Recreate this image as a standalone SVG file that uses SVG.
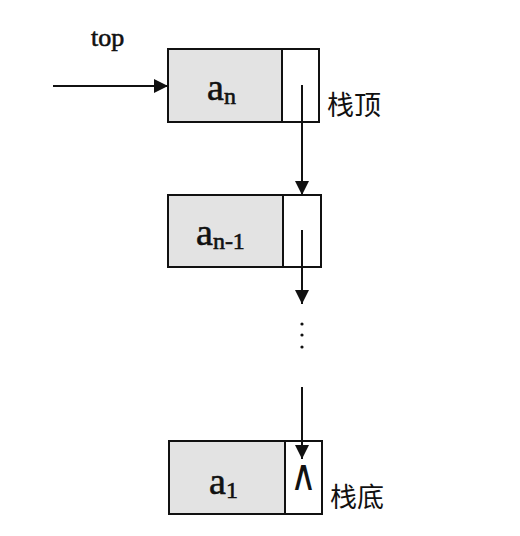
<svg xmlns="http://www.w3.org/2000/svg" width="520" height="536" viewBox="0 0 520 536">
<style>
.cell{fill:#e3e3e3;stroke:#111;stroke-width:2}
.ptr{fill:#fff;stroke:#111;stroke-width:2}
.lbl{font-family:"Liberation Serif",serif;fill:#111;stroke:#111;stroke-width:0.6}
.cn{font-family:"Noto Sans CJK SC",sans-serif;font-size:27px;fill:#111}
.ln{stroke:#111;stroke-width:2;fill:none}
</style>
<defs>
<marker id="ah" viewBox="0 0 10 10" refX="10" refY="5" markerWidth="14" markerHeight="14" markerUnits="userSpaceOnUse" orient="auto">
<path d="M0,0 L10,5 L0,10 Z" fill="#111"/>
</marker>
</defs>
<rect width="520" height="536" fill="#fff"/>
<text class="lbl" x="91" y="46" font-size="26" stroke-width="0.3">top</text>
<g id="node-an">
<rect class="cell" x="168" y="49" width="114" height="73"/>
<rect class="ptr" x="282" y="49" width="37" height="73"/>
<text class="lbl" x="207" y="100" font-size="38">a<tspan font-size="24" dy="4">n</tspan></text>
<text class="cn" x="327" y="115">栈顶</text>
</g>
<g id="node-an1">
<rect class="cell" x="168" y="195" width="115" height="72"/>
<rect class="ptr" x="283" y="195" width="38" height="72"/>
<text class="lbl" x="196" y="245" font-size="38">a<tspan font-size="24" dy="4">n-1</tspan></text>
</g>
<g id="node-a1">
<rect class="cell" x="169" y="441" width="116" height="73"/>
<rect class="ptr" x="285" y="441" width="37" height="73"/>
<text class="lbl" x="209" y="494" font-size="38">a<tspan font-size="24" dy="4">1</tspan></text>
<text transform="translate(303.5,490) scale(1.5,1.8)" font-family="DejaVu Sans" font-size="24" text-anchor="middle" fill="#111">∧</text>
<text class="cn" x="330" y="507">栈底</text>
</g>
<g id="connectors">
<line class="ln" x1="53" y1="86" x2="168" y2="86" marker-end="url(#ah)"/>
<line class="ln" x1="302" y1="85" x2="302" y2="195" marker-end="url(#ah)"/>
<line class="ln" x1="302" y1="230" x2="302" y2="304" marker-end="url(#ah)"/>
<line class="ln" x1="302" y1="387" x2="302" y2="459" marker-end="url(#ah)"/>
<circle cx="302" cy="324" r="1.6" fill="#111"/>
<circle cx="302" cy="335" r="1.6" fill="#111"/>
<circle cx="302" cy="347" r="1.6" fill="#111"/>
</g>
</svg>
